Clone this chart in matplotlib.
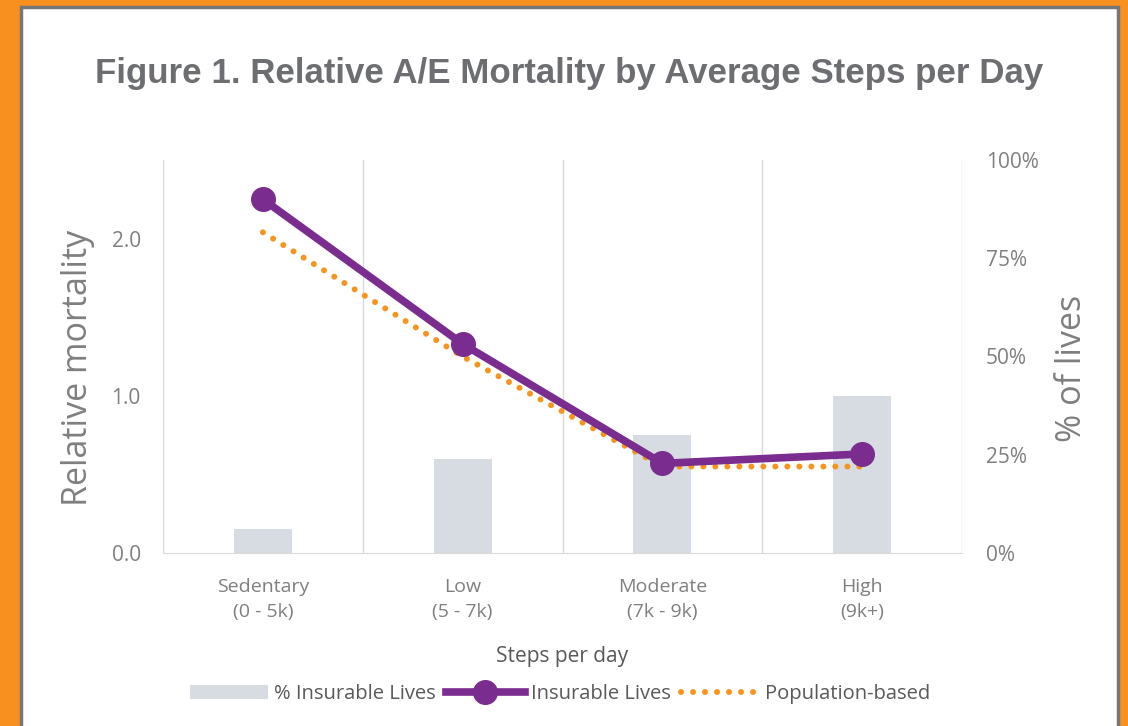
"""
Relative A/E mortality by average steps per day.
"""

import matplotlib
matplotlib.use("Agg")
from matplotlib import pyplot as plt
from matplotlib.patches import Rectangle
from matplotlib.lines import Line2D
import numpy as np

categories = ["Sedentary\n(0 - 5k)", "Low\n(5 - 7k)", "Moderate\n(7k - 9k)", "High\n(9k+)"]
pct_lives = [0.06, 0.24, 0.30, 0.40]          # % Insurable Lives (right axis)
insurable = [2.25, 1.33, 0.57, 0.63]          # Insurable Lives relative mortality
population = [2.04, 1.25, 0.55, 0.55]         # Population-based relative mortality

purple = "#7B2C8F"
orange = "#F7941D"
bargrey = "#D6DCE1"
txtgrey = "#7F7F7F"
gridc = "#D9D9D9"
dots = (0, (0.01, 2.0))

plt.rcParams['font.family'] = ['Open Sans', 'DejaVu Sans']

fig = plt.figure(figsize=(11.28, 7.26), dpi=100)

# orange frame with white card
fig.patches.append(Rectangle((0, 0), 1, 1, transform=fig.transFigure,
                             facecolor="#F7901E", edgecolor="none", zorder=-10))
fig.patches.append(Rectangle((21/1128, -0.05), (1118-21)/1128, 1.05-7/726,
                             transform=fig.transFigure, facecolor="white",
                             edgecolor="#76777A", lw=2.5, zorder=-9))

ax2 = fig.add_axes([163/1128, 1-553/726, (962-163)/1128, (553-160)/726])
ax = ax2.twinx()
ax.yaxis.tick_left()
ax.yaxis.set_label_position("left")
ax2.yaxis.tick_right()
ax2.yaxis.set_label_position("right")
ax.set_zorder(ax2.get_zorder()+1)
ax.patch.set_visible(False)

x = np.arange(len(categories))

ax2.bar(x, pct_lives, width=0.29, color=bargrey, zorder=2)
for b in np.arange(len(categories)+1)-0.5:
    ax2.axvline(b, color=gridc, lw=1, zorder=1)

ax.plot(x, population, color=orange, lw=4.3, ls=dots,
        dash_capstyle='round', zorder=3)
ax.plot(x, insurable, color=purple, lw=5.5, marker='o', ms=17,
        solid_capstyle='round', zorder=4)

ax.set_xlim(-0.5, 3.5)
ax.set_ylim(0, 2.5)
ax2.set_ylim(0, 1)
ax.set_yticks([0, 1, 2])
ax.set_yticklabels(["0.0", "1.0", "2.0"])
ax2.set_yticks([0, 0.25, 0.5, 0.75, 1.0])
ax2.set_yticklabels(["0%", "25%", "50%", "75%", "100%"])
ax2.set_xticks(x)
ax2.set_xticklabels(categories, linespacing=1.5)

for a in (ax, ax2):
    for s in a.spines.values():
        s.set_visible(False)
    a.tick_params(length=0, colors=txtgrey, labelsize=15)
ax2.tick_params(axis='x', labelsize=14)
ax2.spines['bottom'].set_visible(True)
ax2.spines['bottom'].set_color(gridc)
ax.tick_params(axis='y', pad=16)
ax2.tick_params(axis='y', pad=17)
ax2.tick_params(axis='x', pad=18)

ax.set_ylabel("Relative mortality", fontsize=24.5, color=txtgrey, labelpad=12)
ax2.set_ylabel("% of lives", fontsize=24.5, color=txtgrey, labelpad=12)
ax.yaxis.label.set_y(0.47)
ax2.yaxis.label.set_y(0.47)
ax2.set_xlabel("Steps per day", fontsize=15, color="#595959", labelpad=18)

fig.text(569/1128, 1-74/726, "Figure 1. Relative A/E Mortality by Average Steps per Day",
         ha='center', va='center', fontsize=25.1, fontweight='bold', color="#6D6E71",
         family=['Liberation Sans'])

handles = [Rectangle((0, 0), 1, 1, facecolor=bargrey),
           Line2D([], [], color=purple, lw=5.5, marker='o', ms=17),
           Line2D([], [], color=orange, lw=4.3, ls=dots, dash_capstyle='round')]
labels = ["% Insurable Lives", "Insurable Lives", "Population-based"]
fig.legend(handles, labels, loc='center', bbox_to_anchor=(560/1128, 1-694/726),
           ncol=3, frameon=False, fontsize=14.5, labelcolor="#595959",
           handlelength=3.9, handletextpad=0.3, columnspacing=0.5)

fig.savefig("out.png", dpi=100)
